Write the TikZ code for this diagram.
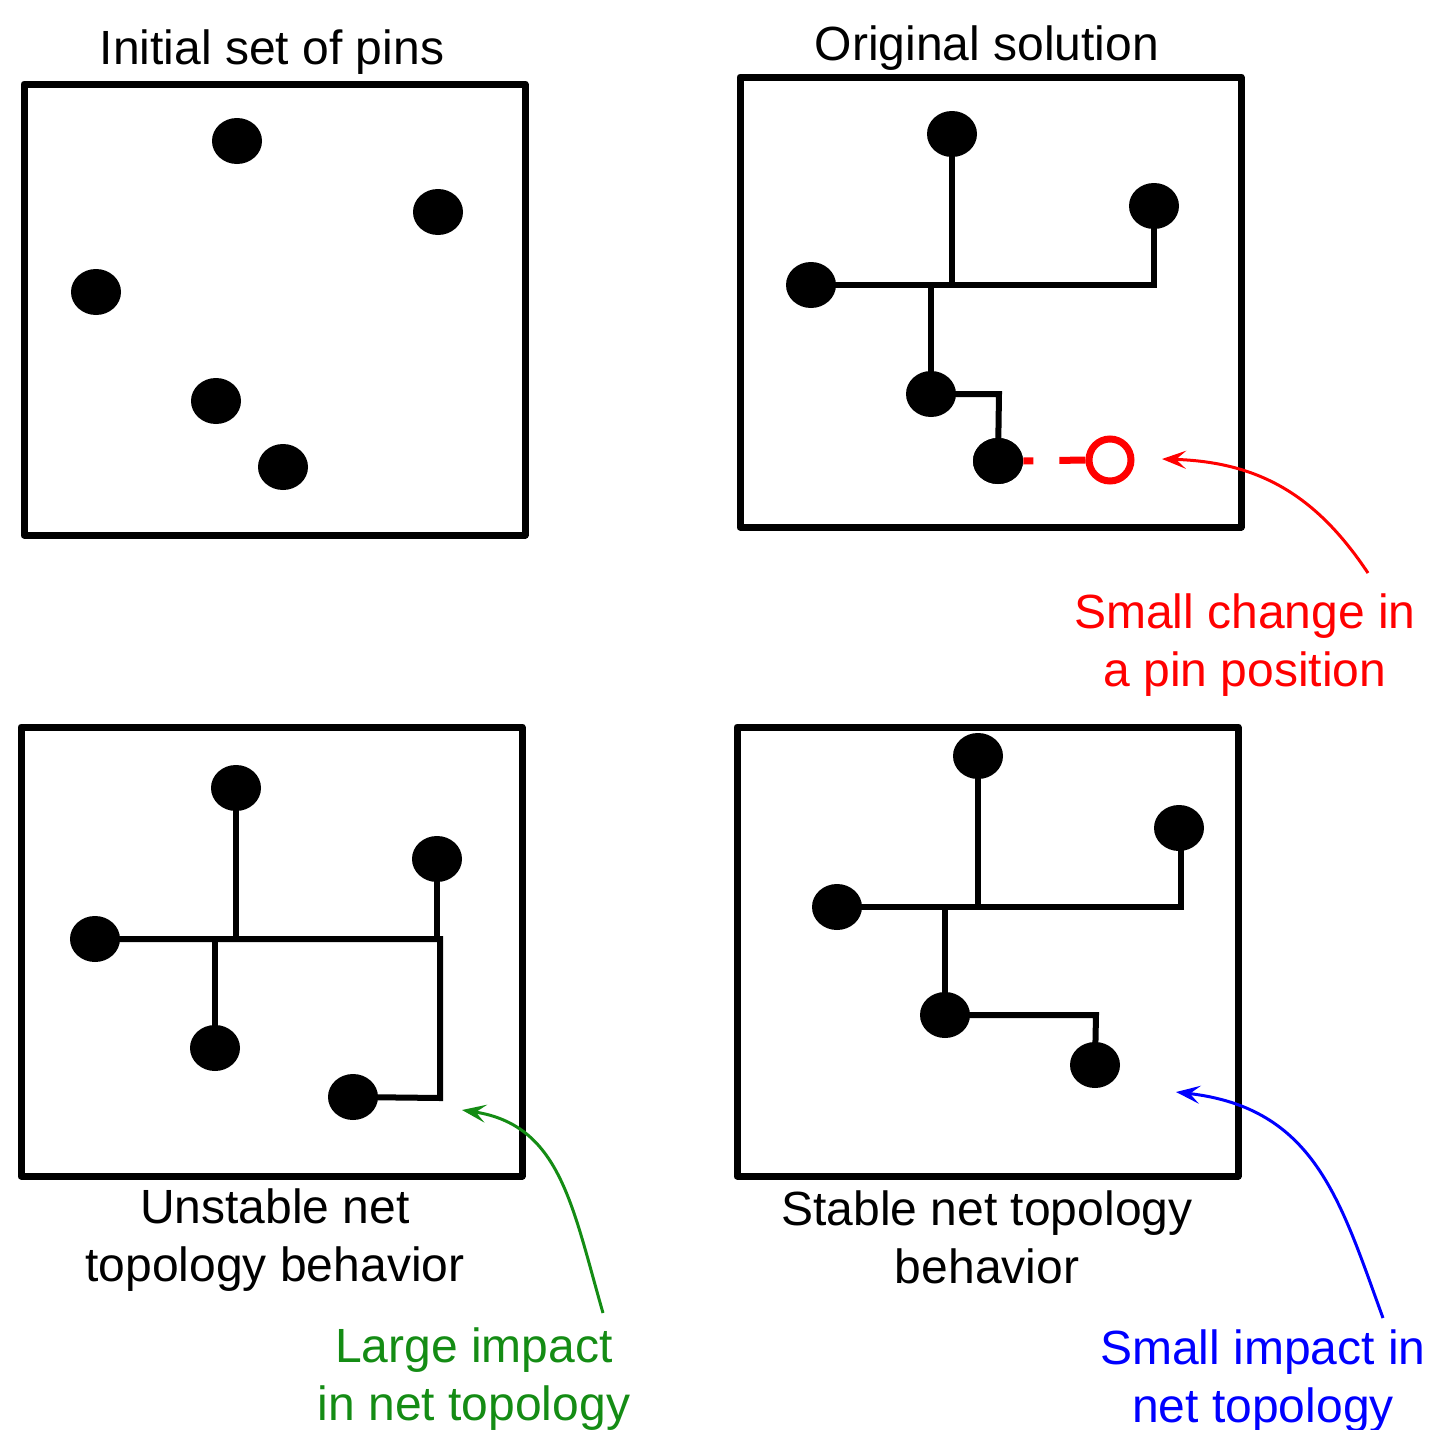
\documentclass[tikz,border=0pt]{standalone}
\usepackage{fontspec}
\setmainfont{Liberation Sans}
\usetikzlibrary{shapes.geometric,arrows.meta}
\definecolor{pinred}{RGB}{255,0,0}
\definecolor{notegreen}{RGB}{20,140,20}
\definecolor{noteblue}{RGB}{0,0,255}
\tikzset{
  frame/.style={draw=black, line width=3.5pt, line join=round},
  pin/.style={ellipse, fill=black, minimum width=25pt, minimum height=23pt, inner sep=0pt},
  wire/.style={draw=black, line width=3pt},
  label/.style={font=\fontsize{24}{29}\selectfont, align=center, inner sep=0pt},
  note/.style={line width=1.5pt, -{Stealth[length=12pt, width=9pt, inset=5pt]}},
}
\begin{document}
\begin{tikzpicture}[x=0.5pt,y=-0.5pt]
\useasboundingbox (0,0) rectangle (1432,1430);

% ---- frames ----
\draw[frame] (24,84) rectangle (525,535);
\draw[frame] (740,77) rectangle (1241,527);
\draw[frame] (21,727) rectangle (522,1176);
\draw[frame] (737,727) rectangle (1238,1176);

% ---- titles and captions ----
\node[label] (t1) at (272,52) {Initial set of pins};
\node[label] (t2) at (987,48) {Original solution};
\node[label] (t3) at (275,1240) {Unstable net\\topology behavior};
\node[label] (t4) at (987,1237) {Stable net topology\\behavior};
\node[label, text=pinred] (n1) at (1245,645) {Small change in\\a pin position};
\node[label, text=notegreen] (n2) at (474,1379) {Large impact\\in net topology};
\node[label, text=noteblue] (n3) at (1263,1381) {Small impact in\\net topology};

% ---- panel 1: pins only ----
\node[pin] (a1) at (237,141) {};
\node[pin] (a2) at (438,212) {};
\node[pin] (a3) at (96,292) {};
\node[pin] (a4) at (216,401) {};
\node[pin] (a5) at (283,467) {};

% ---- panel 2: original routing ----
\node[pin] (b1) at (952,134) {};
\node[pin] (b2) at (1154,206) {};
\node[pin] (b3) at (811,285) {};
\node[pin] (b4) at (931,394) {};
\node[pin] (b5) at (998,461) {};
\coordinate (bj1) at (952,285);
\coordinate (bj2) at (931,285);
\draw[wire] (b3.center) -- (1154,285) -- (b2.center);
\draw[wire] (b1.center) -- (bj1);
\draw[wire] (bj2) -- (b4.center);
\draw[wire] (b4.center) -- (999,394) -- (b5.center);
\node[pin] at (b5) {};
\node[circle, draw=pinred, line width=3.5pt, minimum size=21pt, inner sep=0pt] (bm) at (1110,460) {};
\draw[draw=pinred, line width=3.5pt, dash pattern=on 5pt off 13pt on 40pt] (b5.east) -- (bm.west);

% ---- panel 3: unstable routing ----
\node[pin] (c1) at (236,788) {};
\node[pin] (c2) at (437,859) {};
\node[pin] (c3) at (95,939) {};
\node[pin] (c4) at (215,1048) {};
\node[pin] (c5) at (353,1097) {};
\coordinate (cj1) at (236,939);
\coordinate (cj2) at (215,939);
\draw[wire] (c3.center) -- (440,939) -- (440,1098) -- (c5.center);
\draw[wire] (c1.center) -- (cj1);
\draw[wire] (c2.center) -- (437,939);
\draw[wire] (cj2) -- (c4.center);

% ---- panel 4: stable routing ----
\node[pin] (d1) at (978,756) {};
\node[pin] (d2) at (1179,828) {};
\node[pin] (d3) at (837,907) {};
\node[pin] (d4) at (945,1015) {};
\node[pin] (d5) at (1095,1065) {};
\coordinate (dj1) at (978,907);
\coordinate (dj2) at (945,907);
\draw[wire] (d3.center) -- (1181,907) -- (1181,828);
\draw[wire] (d1.center) -- (dj1);
\draw[wire] (dj2) -- (d4.center);
\draw[wire] (d4.center) -- (1096,1015) -- (d5.center);

% ---- annotation arrows ----
\coordinate (r0) at (1368,573);
\coordinate (r1) at (1162,459);
\draw[note, pinred] (r0) .. controls (1318,498) and (1262,462) .. (r1);
\coordinate (g0) at (603,1313);
\coordinate (g1) at (462,1110);
\draw[note, notegreen] (g0) .. controls (572,1205) and (560,1125) .. (g1);
\coordinate (u0) at (1383,1318);
\coordinate (u1) at (1176,1092);
\draw[note, noteblue] (u0) .. controls (1340,1200) and (1315,1108) .. (u1);
\end{tikzpicture}
\end{document}
